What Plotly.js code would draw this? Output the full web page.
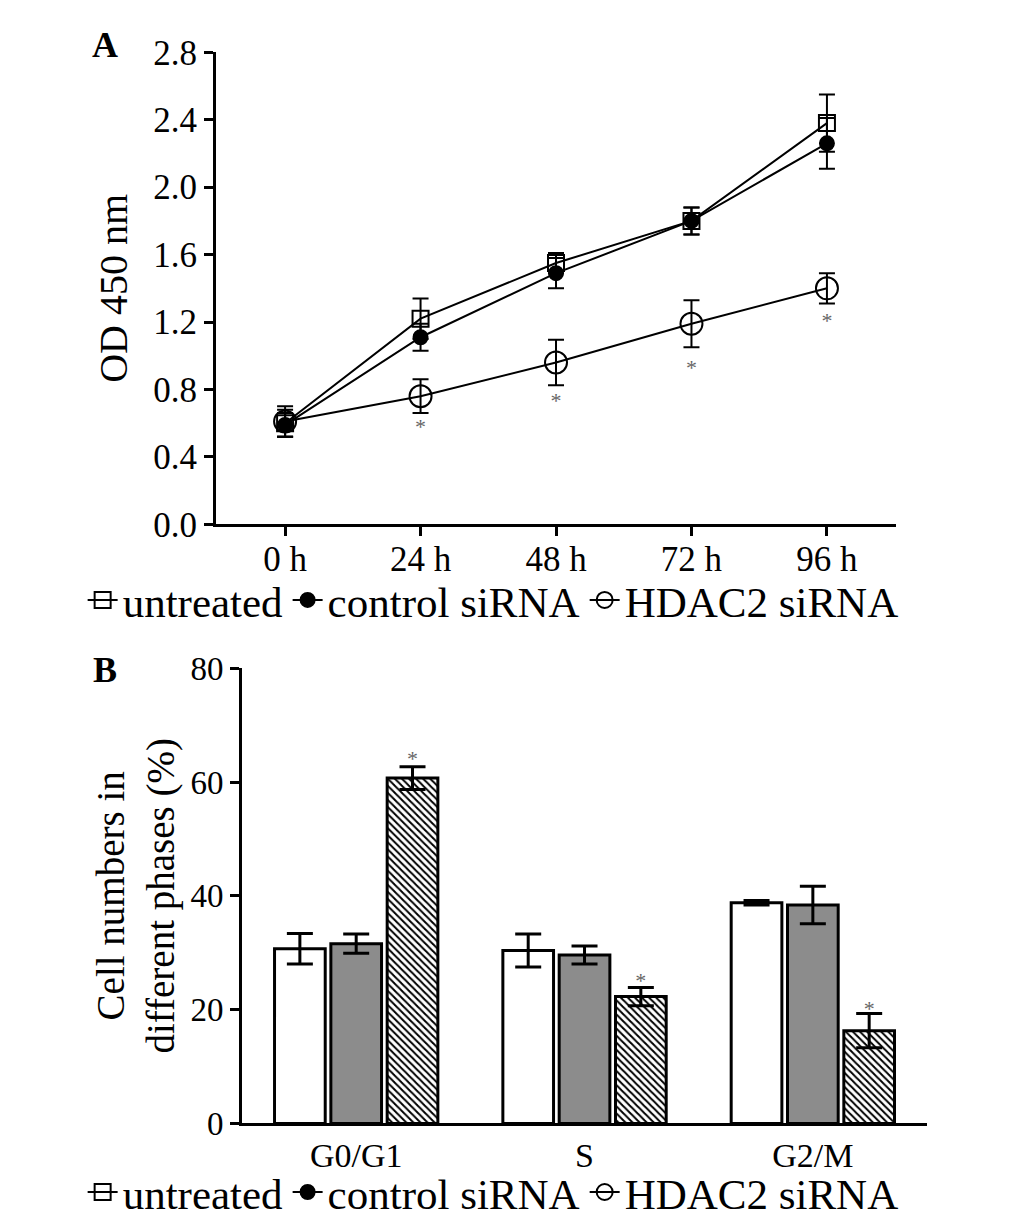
<!DOCTYPE html>
<html>
<head>
<meta charset="utf-8">
<script src="https://cdn.plot.ly/plotly-3.0.1.min.js"></script>
<style>
  html, body { margin: 0; padding: 0; background: #fff; }
  #chart { width: 1033px; height: 1227px; }
</style>
</head>
<body>
<div id="chart"></div>
<script>
// Panel A : prolifération (OD 450 nm)
const timeLabels = ['0 h', '24 h', '48 h', '72 h', '96 h'];
const seriesNames = ['untreated', 'control siRNA', 'HDAC2 siRNA'];

const odUntreated = [0.60, 1.22, 1.55, 1.80, 2.38];
const odUntreatedErr = [0.08, 0.12, 0.06, 0.08, 0.17];
const odControl = [0.59, 1.11, 1.49, 1.80, 2.26];
const odControlErr = [0.07, 0.08, 0.09, 0.08, 0.15];
const odHdac2 = [0.61, 0.76, 0.96, 1.19, 1.40];
const odHdac2Err = [0.09, 0.10, 0.135, 0.14, 0.09];
// astérisques sous HDAC2 siRNA (24 h à 96 h)
const odStarTimes = ['24 h', '48 h', '72 h', '96 h'];
const odStarY = [0.57, 0.72, 0.92, 1.195];

// Panel B : phases du cycle cellulaire (%)
const phaseLabels = ['G0/G1', 'S', 'G2/M'];
const phaseUntreated = [30.7, 30.4, 38.8];
const phaseUntreatedErr = [2.7, 2.9, 0.4];
const phaseControl = [31.6, 29.6, 38.4];
const phaseControlErr = [1.7, 1.6, 3.3];
const phaseHdac2 = [60.7, 22.3, 16.3];
const phaseHdac2Err = [2.0, 1.6, 3.0];
const phaseStarY = [63.8, 24.8, 19.9];

const FONT = 'Liberation Serif, Times New Roman, serif';
const BARGAP = 0.26;
const phaseIdx = phaseLabels.map((_, i) => i);
// centre de la 3e barre du groupe
const hdacOffset = (1 - BARGAP) / 3;

const symbols = ['square-open', 'circle', 'circle-open'];
const sizes = [16, 14, 22];

function errBar(arr, w, t) {
  return { type: 'data', array: arr, visible: true, color: '#000', thickness: t, width: w };
}

const odSeries = [odUntreated, odControl, odHdac2];
const odErrs = [odUntreatedErr, odControlErr, odHdac2Err];

const traces = [];

odSeries.forEach((vals, i) => {
  traces.push({
    x: timeLabels, y: vals,
    type: 'scatter', mode: 'lines+markers',
    name: seriesNames[i],
    xaxis: 'x', yaxis: 'y',
    line: { color: '#000', width: 2 },
    marker: { symbol: symbols[i], size: sizes[i], color: '#000', line: { color: '#000', width: 2 } },
    error_y: errBar(odErrs[i], 8, 2),
    legend: 'legend',
  });
});

traces.push({
  x: odStarTimes, y: odStarY,
  type: 'scatter', mode: 'text', text: odStarTimes.map(() => '*'),
  textfont: { family: FONT, size: 22, color: '#666' },
  xaxis: 'x', yaxis: 'y', showlegend: false, hoverinfo: 'skip',
});

// barres panel B
const phaseSeries = [phaseUntreated, phaseControl, phaseHdac2];
const phaseErrs = [phaseUntreatedErr, phaseControlErr, phaseHdac2Err];
const barColors = ['#ffffff', '#8c8c8c', '#ffffff'];

phaseSeries.forEach((vals, i) => {
  const marker = { color: barColors[i], line: { color: '#000', width: 3 } };
  if (i === 2) {
    marker.pattern = { shape: '\\', fgcolor: '#000', bgcolor: '#fff', size: 5, solidity: 0.4 };
  }
  traces.push({
    x: phaseIdx, y: vals,
    type: 'bar', name: seriesNames[i],
    xaxis: 'x2', yaxis: 'y2',
    marker: marker,
    error_y: errBar(phaseErrs[i], 13, 3),
    showlegend: false,
  });
});

traces.push({
  x: phaseIdx.map(v => v + hdacOffset), y: phaseStarY,
  type: 'scatter', mode: 'text', text: phaseIdx.map(() => '*'),
  textfont: { family: FONT, size: 22, color: '#666' },
  xaxis: 'x2', yaxis: 'y2', showlegend: false, hoverinfo: 'skip',
});

// légende du panel B (mêmes symboles que le panel A)
seriesNames.forEach((name, i) => {
  traces.push({
    x: [null], y: [null],
    type: 'scatter', mode: 'lines+markers',
    name: name,
    xaxis: 'x2', yaxis: 'y2',
    line: { color: '#000', width: 2 },
    marker: { symbol: symbols[i], size: sizes[i], color: '#000', line: { color: '#000', width: 2 } },
    legend: 'legend2',
  });
});

const axisCommon = {
  showline: true, linecolor: '#000', linewidth: 3,
  showgrid: false, zeroline: false,
  ticks: 'outside', ticklen: 9, tickwidth: 3, tickcolor: '#000',
  tickfont: { family: FONT, size: 35, color: '#000' },
};

const legendCommon = {
  orientation: 'h', xanchor: 'left', yanchor: 'middle',
  font: { family: FONT, size: 43, color: '#000' },
  bgcolor: 'rgba(0,0,0,0)', itemwidth: 30, traceorder: 'normal',
};

const layout = {
  width: 1033, height: 1227,
  margin: { t: 0, r: 0, b: 0, l: 0 },
  paper_bgcolor: '#fff', plot_bgcolor: '#fff',
  font: { family: FONT, color: '#000' },
  barmode: 'group', bargap: BARGAP, bargroupgap: 0.1,
  xaxis: Object.assign({}, axisCommon, {
    domain: [0.2091, 0.8674], anchor: 'y',
    type: 'category', range: [-0.51, 4.51],
    ticklabelstandoff: -7,
  }),
  yaxis: Object.assign({}, axisCommon, {
    domain: [0.5709, 0.9572], anchor: 'x',
    range: [0, 2.8], dtick: 0.4, tickformat: '.1f',
    title: { text: 'OD 450 nm', font: { family: FONT, size: 40, color: '#000' }, standoff: 14 },
  }),
  xaxis2: Object.assign({}, axisCommon, {
    domain: [0.2343, 0.8974], anchor: 'y2',
    range: [-0.5, 2.5], tickvals: phaseIdx, ticktext: phaseLabels, ticks: '',
    tickfont: { family: FONT, size: 34, color: '#000' },
  }),
  yaxis2: Object.assign({}, axisCommon, {
    domain: [0.0807, 0.4531], anchor: 'x2',
    range: [0, 80], dtick: 20,
    tickfont: { family: FONT, size: 33, color: '#000' },
    title: { text: 'Cell numbers in<br>different phases (%)', font: { family: FONT, size: 39, color: '#000' }, standoff: 4 },
  }),
  legend: Object.assign({}, legendCommon, { x: 0.08, y: 0.509 }),
  legend2: Object.assign({}, legendCommon, { x: 0.08, y: 0.0245 }),
  annotations: [
    { text: '<b>A</b>', xref: 'paper', yref: 'paper', x: 105 / 1033, y: 1 - 45 / 1227, xanchor: 'center', yanchor: 'middle', showarrow: false, font: { family: FONT, size: 36, color: '#000' } },
    { text: '<b>B</b>', xref: 'paper', yref: 'paper', x: 105 / 1033, y: 1 - 673 / 1227, xanchor: 'center', yanchor: 'middle', showarrow: false, font: { family: FONT, size: 36, color: '#000' } },
  ],
  showlegend: true,
};

Plotly.newPlot('chart', traces, layout, { staticPlot: true, displayModeBar: false });
</script>
</body>
</html>
